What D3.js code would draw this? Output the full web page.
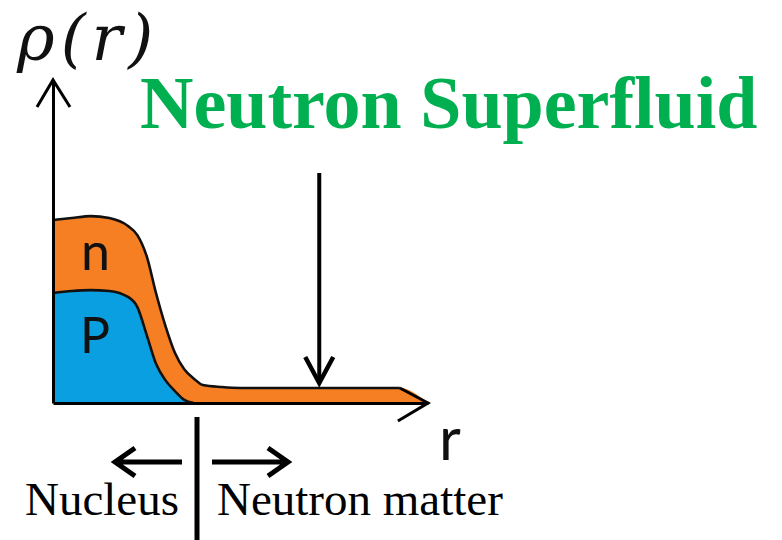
<!DOCTYPE html>
<html>
<head>
  <meta charset="UTF-8">
  <title>Neutron Superfluid density profile</title>
  <script src="https://d3js.org/d3.v7.min.js"></script>
  <style>
    body { margin: 0; background: #fff; }
    svg { display: block; }
  </style>
</head>
<body>
  <div id="chart"></div>
  <script>
    // radius (arbitrary units) and densities
    const radius          = [0, 0.5, 1, 1.5, 2, 2.25, 2.5, 2.75, 3, 3.25, 3.5, 3.75, 4, 4.5, 5, 6, 7, 8, 9.25, 10];
    const protonDensity   = [0.608, 0.619, 0.624, 0.619, 0.586, 0.530, 0.375, 0.215, 0.125, 0.066, 0.017, 0, 0, 0, 0, 0, 0, 0, 0, 0];
    const neutronDensity  = [0.403, 0.403, 0.409, 0.403, 0.392, 0.398, 0.435, 0.390, 0.300, 0.212, 0.170, 0.136, 0.099, 0.088, 0.083, 0.083, 0.083, 0.083, 0.083, 0];
    const layerKeys   = ["p", "n"];
    const layerLabels = ["P", "n"];
    const boundaryR = 3.84;   // nucleus edge
    const arrowR = 7.1;       // where the superfluid arrow points

    const width = 782, height = 540;
    const x = d3.scaleLinear().domain([0, 10]).range([53, 428]);
    const y = d3.scaleLinear().domain([0, 1.785]).range([403, 80]);

    const rows = radius.map((r, i) => ({ r: r, p: protonDensity[i], n: neutronDensity[i] }));
    const stacked = d3.stack().keys(layerKeys)(rows);

    const svg = d3.select("#chart").append("svg")
      .attr("width", width).attr("height", height);

    const colors = { p: "#0a9fe0", n: "#f57f22" };

    const area = d3.area()
      .x(d => x(d.data.r)).y0(d => y(d[0])).y1(d => y(d[1]))
      .curve(d3.curveMonotoneX);
    const topLine = d3.line()
      .x(d => x(d.data.r)).y(d => y(d[1]))
      .curve(d3.curveMonotoneX);

    svg.selectAll(".layer").data(stacked).enter().append("path")
      .attr("class", "layer")
      .attr("d", area)
      .attr("fill", d => colors[d.key]);

    svg.selectAll(".edge").data(stacked).enter().append("path")
      .attr("class", "edge")
      .attr("d", d => topLine(d.key === "p" ? d.filter(v => v.data.r <= 3.75) : d.filter(v => v.data.r <= 9.25)))
      .attr("fill", "none")
      .attr("stroke", "#111")
      .attr("stroke-width", 2.6);

    // axes without ticks
    svg.append("g").attr("transform", `translate(0,${y(0)})`)
      .call(d3.axisBottom(x).tickValues([]).tickSizeOuter(0));
    svg.append("g").attr("transform", `translate(${x(0)},0)`)
      .call(d3.axisLeft(y).tickValues([]).tickSizeOuter(0));
    svg.selectAll(".domain").attr("stroke", "#000").attr("stroke-width", 3);

    // arrow heads of the axes
    svg.append("path")
      .attr("d", `M${x(0) - 16},${y.range()[1] + 27}L${x(0)},${y.range()[1]}L${x(0) + 17},${y.range()[1] + 27}`)
      .attr("fill", "none").attr("stroke", "#000").attr("stroke-width", 3);
    svg.append("path")
      .attr("d", `M${x(9.25)},${y(0.083)}L${x(10)},${y(0)}L${x(9.25) - 2},${y(0) + 18}`)
      .attr("fill", "none").attr("stroke", "#000").attr("stroke-width", 3);

    // layer labels
    svg.append("text").attr("x", 81).attr("y", 270)
      .attr("font-family", "Lato, sans-serif").attr("font-size", 52).attr("fill", "#111")
      .text(layerLabels[1]);
    svg.append("text").attr("x", 80).attr("y", 353)
      .attr("font-family", "Lato, sans-serif").attr("font-size", 50).attr("fill", "#111")
      .text(layerLabels[0]);

    // axis titles
    svg.append("text").attr("x", 17).attr("y", 60)
      .attr("font-family", "DejaVu Serif, serif").attr("font-style", "italic")
      .attr("font-size", 64).attr("letter-spacing", 6).attr("fill", "#111")
      .text("ρ(r)");
    svg.append("text").attr("x", 439).attr("y", 460)
      .attr("font-family", "Lato, sans-serif").attr("font-size", 60).attr("fill", "#111")
      .text("r");

    // superfluid annotation
    svg.append("text").attr("x", 140).attr("y", 128)
      .attr("font-family", "Liberation Serif, Times New Roman, serif").attr("font-weight", "bold")
      .attr("font-size", 74).attr("fill", "#00b050")
      .text("Neutron Superfluid");
    const ax = x(arrowR);
    svg.append("line").attr("x1", ax).attr("x2", ax).attr("y1", 173).attr("y2", 381)
      .attr("stroke", "#000").attr("stroke-width", 4);
    svg.append("path")
      .attr("d", `M${ax - 14},357L${ax},383L${ax + 14},357`)
      .attr("fill", "none").attr("stroke", "#000").attr("stroke-width", 4.5);

    // nucleus / neutron matter split
    const bx = x(boundaryR);
    svg.append("line").attr("x1", bx).attr("x2", bx).attr("y1", 417).attr("y2", 540)
      .attr("stroke", "#000").attr("stroke-width", 5);
    const ay = 462;
    svg.append("path")
      .attr("d", `M${bx - 15},${ay}H${bx - 80}M${bx - 62},${ay - 14}L${bx - 82},${ay}L${bx - 62},${ay + 14}`)
      .attr("fill", "none").attr("stroke", "#000").attr("stroke-width", 5);
    svg.append("path")
      .attr("d", `M${bx + 15},${ay}H${bx + 89}M${bx + 71},${ay - 14}L${bx + 91},${ay}L${bx + 71},${ay + 14}`)
      .attr("fill", "none").attr("stroke", "#000").attr("stroke-width", 5);

    svg.append("text").attr("x", bx - 18).attr("y", 515).attr("text-anchor", "end")
      .attr("font-family", "Liberation Serif, Times New Roman, serif")
      .attr("font-size", 47).attr("fill", "#000")
      .text("Nucleus");
    svg.append("text").attr("x", bx + 20).attr("y", 515)
      .attr("font-family", "Liberation Serif, Times New Roman, serif")
      .attr("font-size", 47).attr("fill", "#000")
      .text("Neutron matter");
  </script>
</body>
</html>
